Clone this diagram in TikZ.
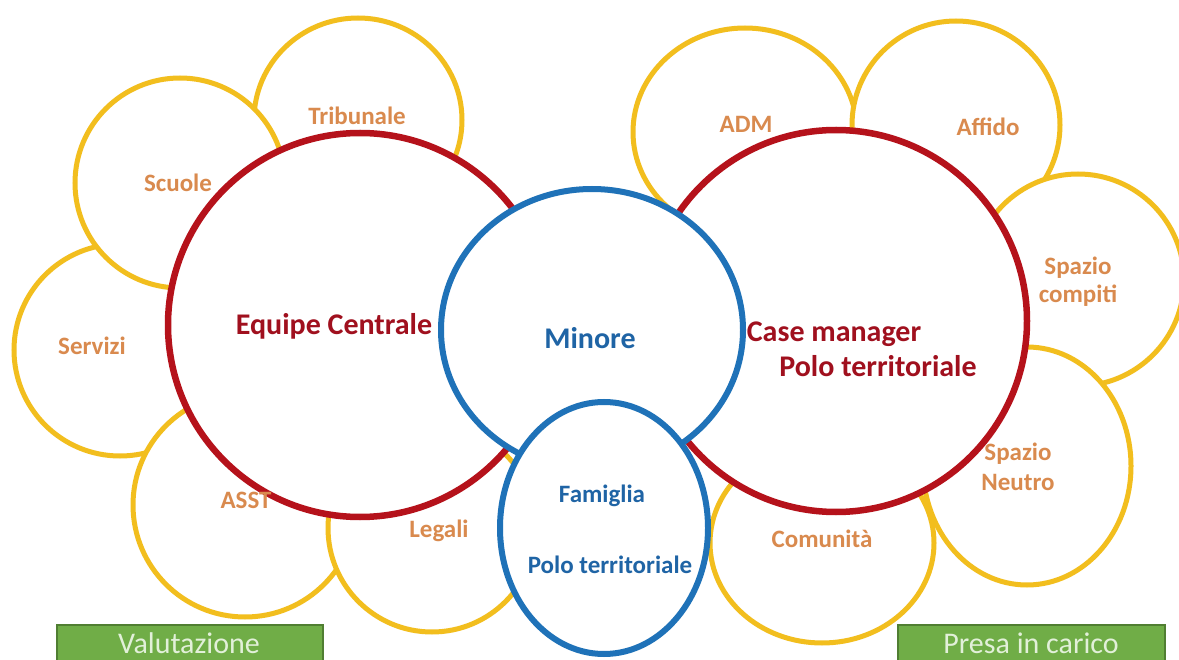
\documentclass[tikz,border=0pt]{standalone}
\usepackage{fontspec}
\setmainfont{Carlito}
\usetikzlibrary{shapes.geometric}

\definecolor{ringyellow}{HTML}{F2BE1E}
\definecolor{labelorange}{HTML}{D98A4E}
\definecolor{hubred}{HTML}{B5121B}
\definecolor{hubtext}{HTML}{A0101E}
\definecolor{coreblue}{HTML}{1F72B8}
\definecolor{coretext}{HTML}{1F64A5}
\definecolor{phasefill}{HTML}{70AD47}
\definecolor{phaseedge}{HTML}{507E32}
\definecolor{phasetext}{HTML}{E2F0D9}

\begin{document}
\begin{tikzpicture}[x=1pt,y=-1pt,
  every node/.style={inner sep=0pt,outer sep=0pt},
  member/.style={ellipse,draw=ringyellow,line width=5pt,fill=white},
  hub/.style={ellipse,draw=hubred,line width=6.5pt,fill=white},
  core/.style={ellipse,draw=coreblue,line width=6pt,fill=white},
  memberlabel/.style={text=labelorange,font=\fontsize{25}{28}\selectfont\bfseries},
  hublabel/.style={text=hubtext,font=\fontsize{30}{36}\selectfont\bfseries,anchor=base},
  corelabel/.style={text=coretext,anchor=base},
  phase/.style={draw=phaseedge,line width=1.2pt,fill=phasefill,anchor=north west},
  phaselabel/.style={text=phasetext,font=\fontsize{30}{36}\selectfont,anchor=base}]

\useasboundingbox (0,0) rectangle (1179,660);
\clip (0,0) rectangle (1179,660);
\fill[white] (0,0) rectangle (1179,660);

% partner rings, left group (lowest first)
\node[member,minimum width=208pt,minimum height=204pt] (trib) at (358,120) {};
\node[member,minimum width=212pt,minimum height=212pt] (serv) at (120,350) {};
\node[member,minimum width=210pt,minimum height=210pt] (scuo) at (180,183) {};
\node[member,minimum width=224pt,minimum height=224pt] (asst) at (245,505) {};
\node[member,minimum width=208pt,minimum height=208pt] (lega) at (432,528) {};

% partner rings, right group
\node[member,minimum width=224pt,minimum height=208pt] (adm) at (745,132) {};
\node[member,minimum width=208pt,minimum height=208pt] (affi) at (956,125) {};
\node[member,minimum width=212pt,minimum height=212pt] (comp) at (1078,280) {};
\node[member,minimum width=208pt,minimum height=238pt] (neut) at (1027,466) {};
\node[member,minimum width=224pt,minimum height=200pt] (comu) at (822,543) {};

% the two hubs
\node[hub,minimum size=384pt] (equipe) at (360,325) {};
\node[hub,minimum size=382pt] (cmgr) at (836,321) {};

% child and family
\node[core,minimum width=302pt,minimum height=282pt] (mino) at (592,330) {};
\node[core,minimum width=208pt,minimum height=252pt] (fami) at (604,528) {};

% labels
\node[memberlabel,anchor=base] (tTrib) at (357,125) {Tribunale};
\node[memberlabel,anchor=base] (tScuo) at (178,192) {Scuole};
\node[memberlabel,anchor=base] (tServ) at (92,355) {Servizi};
\node[memberlabel,anchor=base] (tAsst) at (246,508) {ASST};
\node[memberlabel,anchor=base] (tLega) at (439,537) {Legali};
\node[memberlabel,anchor=base] (tAdm) at (746,133) {ADM};
\node[memberlabel,anchor=base] (tAffi) at (988,136) {Affido};
\node[memberlabel,align=center] (tComp) at (1078,282) {Spazio\\compiti};
\node[memberlabel,align=center,font=\fontsize{25}{30}\selectfont\bfseries] (tNeut) at (1018,467) {Spazio\\Neutro};
\node[memberlabel,anchor=base] (tComu) at (822,547) {Comunità};

\node[hublabel] (tEquipe) at (334,335) {Equipe Centrale};
\node[hublabel] (tCase) at (834,342) {Case manager};
\node[hublabel] (tPoloR) at (878,377) {Polo territoriale};

\node[corelabel,font=\fontsize{30}{36}\selectfont\bfseries] (tMino) at (590,349) {Minore};
\node[corelabel,font=\fontsize{25}{30}\selectfont\bfseries] (tFami) at (602,502) {Famiglia};
\node[corelabel,font=\fontsize{25}{30}\selectfont\bfseries] (tPoloB) at (610,573) {Polo territoriale};

% phase boxes along the bottom edge
\node[phase,minimum width=266pt,minimum height=50pt] (valbox) at (57,625) {};
\node[phase,minimum width=267pt,minimum height=50pt] (presbox) at (898,625) {};
\node[phaselabel] (tVal) at (189,653) {Valutazione};
\node[phaselabel] (tPres) at (1031,653) {Presa in carico};

\end{tikzpicture}
\end{document}
